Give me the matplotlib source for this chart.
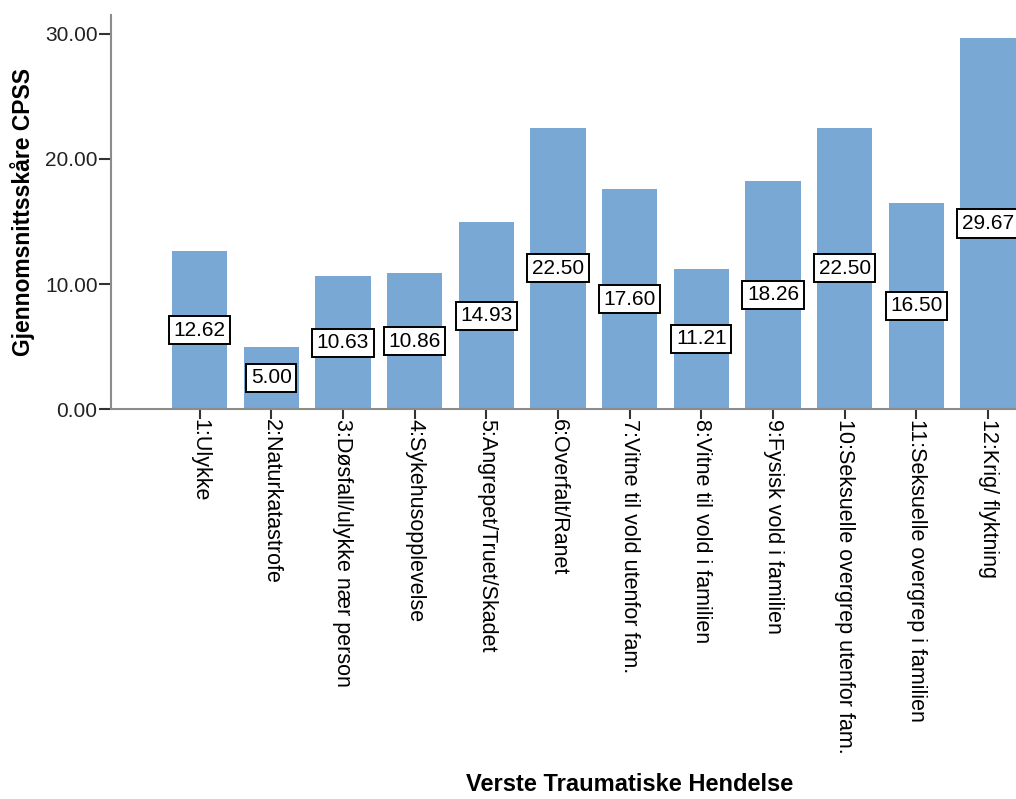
import matplotlib
matplotlib.use('Agg')
import matplotlib.pyplot as plt
import numpy as np

# mean CPSS score per worst traumatic event
categories = ["1:Ulykke", "2:Naturkatastrofe", "3:Døsfall/ulykke nær person",
              "4:Sykehusopplevelse", "5:Angrepet/Truet/Skadet", "6:Overfalt/Ranet",
              "7:Vitne til vold utenfor fam.", "8:Vitne til vold i familien",
              "9:Fysisk vold i familien", "10:Seksuelle overgrep utenfor fam.",
              "11:Seksuelle overgrep i familien", "12:Krig/ flyktning"]
means = [12.62, 5.00, 10.63, 10.86, 14.93, 22.50, 17.60, 11.21, 18.26, 22.50, 16.50, 29.67]
yticks = [0, 10, 20, 30]

plt.rcParams['font.family'] = ['Liberation Sans', 'DejaVu Sans']

fig = plt.figure(figsize=(10.16, 7.99), dpi=100)
ax = fig.add_axes([0.109, 0.488, 0.891, 0.493])

x = np.arange(len(categories))
ax.bar(x, means, width=0.77, color='#79a8d5', zorder=2)

# value labels in boxes at half bar height
for xi, v in zip(x, means):
    ax.text(xi, v / 2, "%.2f" % v, ha='center', va='center', fontsize=15,
            bbox=dict(boxstyle='square,pad=0.22', fc='white', ec='black', lw=1.4),
            zorder=3)

ax.set_xlim(-1.24, 11.39)
ax.set_ylim(0, 31.5)
ax.set_yticks(yticks)
ax.set_yticklabels(["%.2f" % t for t in yticks], fontsize=15, color='#222222')
ax.set_xticks(x)
ax.set_xticklabels(categories, rotation=270, fontsize=15.5, ha='center', va='top')

for s in ['top', 'right']:
    ax.spines[s].set_visible(False)
for s in ['left', 'bottom']:
    ax.spines[s].set_color('#8c8c8c')
    ax.spines[s].set_linewidth(1.5)
ax.tick_params(axis='y', length=8.5, width=1.5, color='#333333', pad=1)
ax.tick_params(axis='x', length=7, width=1.5, color='#333333', pad=0)

ax.set_ylabel("Gjennomsnittsskåre CPSS", fontsize=16.5, fontweight='bold', labelpad=7)
fig.text(0.62, 0.004, "Verste Traumatiske Hendelse", ha='center', va='bottom',
         fontsize=17, fontweight='bold')

plt.savefig('out.png', dpi=100)
